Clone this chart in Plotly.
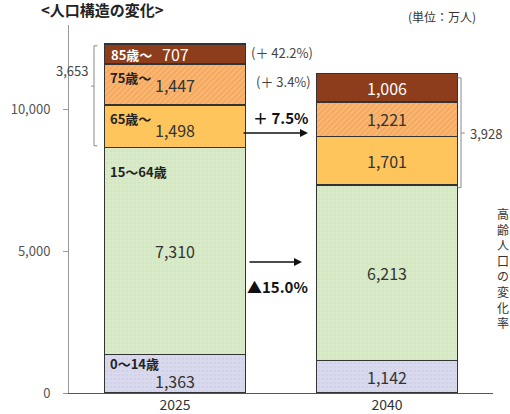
import plotly.graph_objects as go
import numpy as np

years = ["2025", "2040"]
groups = ["0～14歳", "15～64歳", "65歳～", "75歳～", "85歳～"]
values = {
    "0～14歳": [1363, 1142],
    "15～64歳": [7310, 6213],
    "65歳～": [1498, 1701],
    "75歳～": [1447, 1221],
    "85歳～": [707, 1006],
}
elderly_totals = ["3,653", "3,928"]
change_labels = ["(＋ 42.2%)", "(＋ 3.4%)", "＋ 7.5%", "▲15.0%"]
y_ticks = [0, 5000, 10000]

colors = {
    "0～14歳": ("#d9d9ee", "#c8c8e2", "."),
    "15～64歳": ("#d8eac8", "#cde2bb", "."),
    "65歳～": ("#fdc55c", "#fdc55c", ""),
    "75歳～": ("#f9b878", "#f2983f", "/"),
    "85歳～": ("#8d3d1b", "#8d3d1b", ""),
}

FONT = "Noto Sans CJK JP, DejaVu Sans, sans-serif"
fig = go.Figure()
for g in groups:
    bg, fg, pat = colors[g]
    fig.add_trace(go.Bar(
        x=years, y=values[g], name=g, width=0.665,
        marker=dict(color=bg, line=dict(color="#333333", width=1.5),
                    pattern=dict(shape=pat, fgcolor=fg, bgcolor=bg, size=4,
                                 solidity=0.5 if pat == "/" else 0.3)),
        hoverinfo="skip", showlegend=False,
    ))

ann = []
cum = np.zeros(2)
PX = 368 / 13000.0
for g in groups:
    v = np.array(values[g], dtype=float)
    bottom = cum.copy()
    top = cum + v
    mid = (bottom + top) / 2
    tcol = "white" if g == "85歳～" else "#333333"
    ann.append(dict(x=1, y=mid[1], xref="x", yref="y", text=f"{values[g][1]:,}",
                    xanchor="center", yanchor="middle",
                    showarrow=False, font=dict(size=16, color=tcol, family=FONT)))
    cum = top
    if g == "85歳～":
        ann.append(dict(x=0, y=mid[0], xref="x", yref="y", text=f"<b>{g}</b>", xanchor="left",
                        yanchor="middle", xshift=-66, showarrow=False,
                        font=dict(size=13, color="white", family=FONT)))
        ann.append(dict(x=0, y=mid[0], xref="x", yref="y", text=f"{values[g][0]:,}",
                        xanchor="center", yanchor="middle",
                        showarrow=False, font=dict(size=16, color="white", family=FONT)))
    else:
        shifts = {"75歳～": (-13, 0), "65歳～": (-13, -4), "15～64歳": (-24, 0), "0～14歳": (-9, -7)}
        lab_sh, val_sh = shifts[g]
        ann.append(dict(x=0, y=top[0], xref="x", yref="y", text=f"<b>{g}</b>", xanchor="left",
                        yanchor="middle", xshift=-67, yshift=lab_sh, showarrow=False,
                        font=dict(size=13, color="#222222", family=FONT)))
        ann.append(dict(x=0, y=mid[0], xref="x", yref="y", text=f"{values[g][0]:,}",
                        xanchor="center", yanchor="middle",
                        yshift=val_sh, showarrow=False,
                        font=dict(size=16, color="#333333", family=FONT)))

tot = [sum(values[g][i] for g in groups) for i in range(2)]
base65 = [values["0～14歳"][i] + values["15～64歳"][i] for i in range(2)]

shapes = []
lx = (94 - 69) / 424
shapes.append(dict(type="path", xref="paper", yref="y",
                   path=f"M {lx+0.008},{tot[0]-60} L {lx},{tot[0]-60} L {lx},{base65[0]+60} L {lx+0.008},{base65[0]+60}",
                   line=dict(color="#888888", width=1)))
midl = tot[0] - 42 / PX
shapes.append(dict(type="line", xref="paper", yref="y", x0=lx - 0.007, x1=lx,
                   y0=midl, y1=midl, line=dict(color="#888888", width=1)))
ann.append(dict(x=(90 - 69) / 424, y=tot[0] - 26 / PX, xref="paper", yref="y",
                text=elderly_totals[0], xanchor="right", yanchor="middle", showarrow=False,
                font=dict(size=13, color="#444444", family=FONT)))
rx = (461 - 69) / 424
shapes.append(dict(type="path", xref="paper", yref="y",
                   path=f"M {rx-0.008},{tot[1]-150} L {rx},{tot[1]-150} L {rx},{base65[1]-100} L {rx-0.008},{base65[1]-100}",
                   line=dict(color="#888888", width=1)))
midr = (393 - 133) / PX
shapes.append(dict(type="line", xref="paper", yref="y", x0=rx, x1=rx + 0.009,
                   y0=midr, y1=midr, line=dict(color="#888888", width=1)))
ann.append(dict(x=(468 - 69) / 424, y=midr, xref="paper", yref="y",
                text=elderly_totals[1], xanchor="left", yanchor="middle", showarrow=False,
                font=dict(size=13, color="#444444", family=FONT)))


def pp(px_x, px_y):
    return (px_x - 69) / 424, (393 - px_y) / 368


for txt, (cx, cy), fs, bold in [
    (change_labels[0], (282, 52), 13, False),
    (change_labels[1], (283, 82), 13, False),
    (change_labels[2], (280, 117), 15, True),
    (change_labels[3], (277, 286), 15, True),
]:
    px_, py_ = pp(cx, cy)
    ann.append(dict(x=px_, y=py_, xref="paper", yref="paper", xanchor="center", yanchor="middle",
                    text=f"<b>{txt}</b>" if bold else txt, showarrow=False,
                    font=dict(size=fs, color="#111111" if bold else "#444444", family=FONT)))

for (x0, x1, yy) in [(242, 308, 133), (248, 302, 262)]:
    hx, hy = pp(x1, yy)
    ann.append(dict(x=hx, y=hy, xref="paper", yref="paper", ax=-(x1 - x0), ay=0,
                    text="", showarrow=True,
                    arrowhead=2, arrowsize=1, arrowwidth=1.6, arrowcolor="#111111"))

tx, ty = pp(102, 9)
ann.append(dict(x=tx, y=ty, xref="paper", yref="paper", text="<b>&lt;人口構造の変化&gt;</b>",
                xanchor="center", yanchor="middle",
                showarrow=False, font=dict(size=15, color="#222222", family=FONT)))
ux, uy = pp(442, 17)
ann.append(dict(x=ux, y=uy, xref="paper", yref="paper", text="(単位：万人)",
                xanchor="center", yanchor="middle",
                showarrow=False, font=dict(size=12, color="#333333", family=FONT)))
vx, vy = pp(503, 268)
ann.append(dict(x=vx, y=vy, xref="paper", yref="paper", xanchor="center", yanchor="middle",
                text="<br>".join(list("高齢人口の変化率")), showarrow=False,
                font=dict(size=12, color="#333333", family=FONT)))

fig.update_layout(
    barmode="stack", width=510, height=414,
    margin=dict(l=69, r=17, t=25, b=21, autoexpand=False),
    paper_bgcolor="white", plot_bgcolor="white",
    annotations=ann, shapes=shapes,
    font=dict(family=FONT),
    xaxis=dict(type="category", range=[-0.5, 1.5], showline=True, linecolor="#555555",
               linewidth=1, ticks="", tickfont=dict(size=14, color="#333333"), showgrid=False,
               ticklabelstandoff=-1, automargin=False),
    yaxis=dict(range=[0, 13000], tickvals=y_ticks, ticktext=[f"{v:,}" for v in y_ticks],
               showline=True, linecolor="#999999", linewidth=1, ticks="outside", ticklen=5,
               tickcolor="#999999", ticklabelstandoff=10, automargin=False,
               tickfont=dict(size=13, color="#555555"), showgrid=False, zeroline=False),
)
fig.write_html("out.html", config={"displayModeBar": False},
               post_script="document.body.style.margin='0';document.body.style.overflow='hidden';")
